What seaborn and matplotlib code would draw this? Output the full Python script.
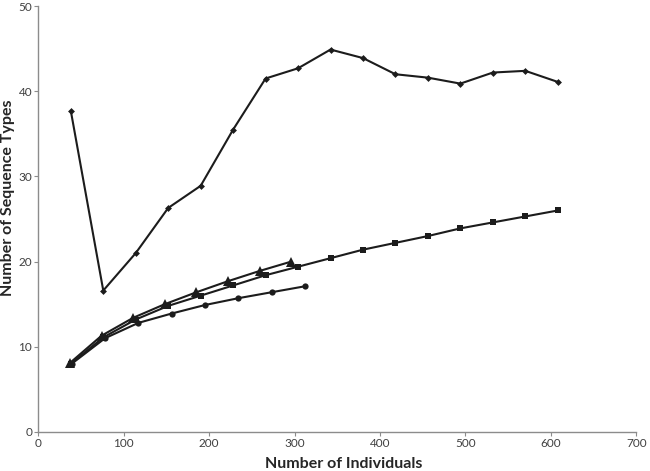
import matplotlib
matplotlib.use("Agg")
import matplotlib.pyplot as plt
import seaborn as sns
import pandas as pd

# x values (number of individuals) and sequence type counts per series
x_diamond = [38, 76, 114, 152, 190, 228, 266, 304, 342, 380, 418, 456, 494, 532, 570, 608]
y_diamond = [37.7, 16.6, 21.0, 26.3, 28.9, 35.5, 41.5, 42.7, 44.9, 43.9, 42.0, 41.6, 40.9, 42.2, 42.4, 41.1]

x_square = [38, 76, 114, 152, 190, 228, 266, 304, 342, 380, 418, 456, 494, 532, 570, 608]
y_square = [8.0, 11.1, 13.2, 14.8, 16.0, 17.2, 18.4, 19.4, 20.4, 21.4, 22.2, 23.0, 23.9, 24.6, 25.3, 26.0]

x_triangle = [37, 74, 111, 148, 185, 222, 259, 296]
y_triangle = [8.1, 11.3, 13.4, 15.0, 16.4, 17.7, 18.9, 20.0]

x_circle = [39, 78, 117, 156, 195, 234, 273, 312]
y_circle = [8.0, 11.0, 12.8, 13.9, 14.9, 15.7, 16.4, 17.1]

sns.set_style("white")
plt.rcParams['font.family'] = ['Lato', 'DejaVu Sans']

fig = plt.figure(figsize=(6.5, 4.71), dpi=100)
ax = fig.add_axes([0.059, 0.083, 0.92, 0.904])

line_color = "#1c1c1c"
series = [
    (x_diamond, y_diamond, "D", 3.5),
    (x_square, y_square, "s", 4.5),
    (x_triangle, y_triangle, "^", 7),
    (x_circle, y_circle, "o", 4.5),
]
for xs, ys, mk, ms in series:
    df = pd.DataFrame({"x": xs, "y": ys})
    sns.lineplot(data=df, x="x", y="y", ax=ax, color=line_color, linewidth=1.5,
                 marker=mk, markersize=ms, markeredgewidth=0,
                 markerfacecolor=line_color, sort=False)

ax.set_xlim(0, 700)
ax.set_ylim(0, 50)
ax.set_xticks(range(0, 701, 100))
ax.set_yticks(range(0, 51, 10))

for side in ["top", "right"]:
    ax.spines[side].set_visible(False)
for side in ["left", "bottom"]:
    ax.spines[side].set_color("#8c8c8c")
    ax.spines[side].set_linewidth(1.0)

ax.tick_params(axis="both", which="major", direction="out", length=3, width=0.8,
               color="#8c8c8c", labelsize=8.5, labelcolor="#404040", pad=1.5)
ax.tick_params(axis="x", bottom=True)
ax.tick_params(axis="y", left=True)

ax.set_xlabel("Number of Individuals", fontsize=11.5, fontweight="bold")
ax.set_ylabel("Number of Sequence Types", fontsize=11.5, fontweight="bold")
ax.xaxis.set_label_coords(0.51, -0.058)
ax.yaxis.set_label_coords(-0.039, 0.55)

fig.savefig("out.png", dpi=100)
